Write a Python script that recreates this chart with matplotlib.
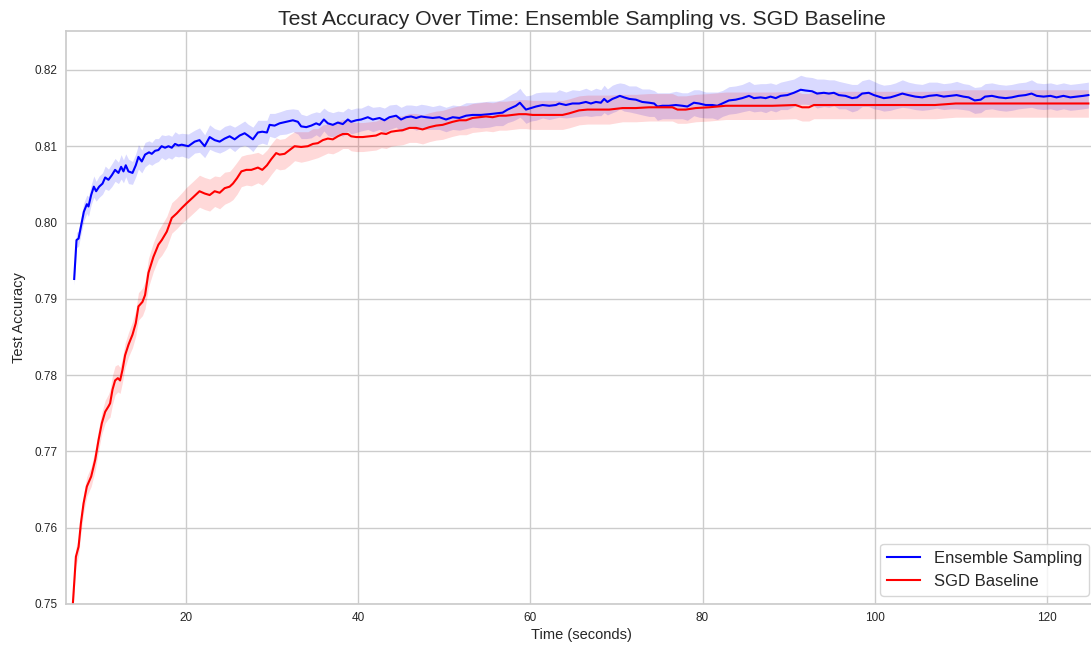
import numpy as np
import matplotlib
matplotlib.use("Agg")
import matplotlib.pyplot as plt

# seaborn-like whitegrid look, done by hand
plt.rcParams.update({
    "font.family": ["Liberation Sans", "DejaVu Sans"],
    "axes.facecolor": "white",
    "axes.edgecolor": "#cccccc",
    "axes.linewidth": 1.25,
    "axes.grid": True,
    "axes.axisbelow": True,
    "grid.color": "#cccccc",
    "grid.linewidth": 1.0,
    "text.color": "#262626",
    "axes.labelcolor": "#262626",
    "xtick.color": "#262626",
    "ytick.color": "#262626",
    "xtick.major.size": 0,
    "ytick.major.size": 0,
    "xtick.major.pad": 6,
    "ytick.major.pad": 6,
})

# Ensemble sampling: time (s), mean accuracy, band half-width
ens_time = [7.05, 7.32, 7.56, 7.87, 8.17, 8.52, 8.71, 9.02, 9.33, 9.60, 9.95, 10.34, 10.65, 11.03,
            11.42, 11.80, 12.19, 12.50, 12.77, 13.04, 13.35, 13.82, 14.20, 14.51, 14.90, 15.28,
            15.74, 16.06, 16.44, 16.83, 17.20, 17.60, 18.00, 18.38, 18.76, 19.15, 19.54, 20.30,
            21.04, 21.60, 22.20, 22.78, 23.36, 23.94, 24.52, 25.10, 25.68, 26.26, 26.84, 27.22,
            27.80, 28.38, 28.89, 29.43, 29.74, 30.32, 30.90, 31.68, 32.44, 33.02, 33.40, 34.00,
            34.57, 35.15, 35.54, 36.04, 36.50, 37.08, 37.66, 38.24, 38.82, 39.20, 39.80, 40.37,
            41.14, 41.72, 42.50, 43.07, 43.65, 44.43, 45.00, 45.59, 46.17, 46.75, 47.33, 47.91,
            48.68, 49.45, 50.22, 51.00, 51.77, 52.55, 53.30, 54.28, 55.25, 56.00, 56.79, 57.37,
            57.95, 58.34, 58.80, 59.10, 59.50, 60.08, 60.66, 61.43, 62.20, 62.98, 63.36, 64.14,
            64.90, 65.68, 66.46, 67.04, 67.62, 68.20, 68.58, 68.96, 69.54, 70.00, 70.40, 70.90,
            71.48, 72.26, 73.00, 73.80, 74.38, 74.76, 75.34, 76.10, 76.90, 77.66, 78.24, 79.00,
            79.60, 80.37, 81.14, 81.72, 82.30, 83.07, 83.85, 84.60, 85.40, 85.97, 86.75, 87.33,
            87.90, 88.50, 89.07, 89.84, 90.60, 91.40, 91.96, 92.73, 93.30, 94.09, 94.67, 95.25,
            95.83, 96.60, 97.37, 97.95, 98.53, 99.30, 99.90, 100.46, 101.04, 101.80, 102.40,
            103.20, 103.90, 104.70, 105.50, 106.30, 107.20, 108.00, 108.80, 109.50, 110.30,
            110.90, 111.60, 112.30, 112.80, 113.60, 114.40, 115.20, 115.90, 116.70, 117.50,
            118.20, 118.80, 119.60, 120.40, 121.10, 121.90, 122.70, 123.50, 124.20, 124.80]
ens_acc = [0.7926, 0.7977, 0.7979, 0.7997, 0.8014, 0.8024, 0.8021, 0.8036, 0.8047, 0.8041, 0.8047,
           0.8051, 0.8059, 0.8056, 0.8062, 0.8069, 0.8065, 0.8073, 0.8067, 0.8075, 0.8067, 0.8065,
           0.8075, 0.8086, 0.8080, 0.8089, 0.8092, 0.8090, 0.8094, 0.8095, 0.8100, 0.8098, 0.8100,
           0.8098, 0.8103, 0.8101, 0.8102, 0.8100, 0.8106, 0.8108, 0.8100, 0.8112, 0.8108, 0.8106,
           0.8110, 0.8113, 0.8109, 0.8114, 0.8117, 0.8114, 0.8109, 0.8118, 0.8119, 0.8118, 0.8128,
           0.8127, 0.8130, 0.8132, 0.8134, 0.8132, 0.8126, 0.8125, 0.8127, 0.8130, 0.8128, 0.8135,
           0.8130, 0.8128, 0.8131, 0.8129, 0.8135, 0.8132, 0.8134, 0.8135, 0.8138, 0.8135, 0.8137,
           0.8134, 0.8138, 0.8140, 0.8135, 0.8138, 0.8139, 0.8137, 0.8139, 0.8138, 0.8137, 0.8138,
           0.8135, 0.8138, 0.8137, 0.8140, 0.8141, 0.8141, 0.8142, 0.8143, 0.8144, 0.8148, 0.8151,
           0.8153, 0.8157, 0.8153, 0.8148, 0.8150, 0.8152, 0.8154, 0.8153, 0.8154, 0.8156, 0.8154,
           0.8156, 0.8156, 0.8158, 0.8156, 0.8158, 0.8157, 0.8162, 0.8158, 0.8162, 0.8164, 0.8166,
           0.8164, 0.8162, 0.8161, 0.8158, 0.8157, 0.8156, 0.8152, 0.8153, 0.8153, 0.8154, 0.8153,
           0.8152, 0.8157, 0.8156, 0.8154, 0.8154, 0.8153, 0.8156, 0.8160, 0.8161, 0.8163, 0.8166,
           0.8163, 0.8164, 0.8163, 0.8165, 0.8163, 0.8166, 0.8167, 0.8170, 0.8174, 0.8173, 0.8172,
           0.8169, 0.8170, 0.8169, 0.8170, 0.8167, 0.8166, 0.8163, 0.8164, 0.8169, 0.8170, 0.8167,
           0.8165, 0.8163, 0.8164, 0.8166, 0.8169, 0.8167, 0.8165, 0.8164, 0.8166, 0.8167, 0.8165,
           0.8166, 0.8167, 0.8165, 0.8164, 0.8160, 0.8161, 0.8165, 0.8166, 0.8164, 0.8163, 0.8164,
           0.8166, 0.8167, 0.8169, 0.8166, 0.8165, 0.8166, 0.8164, 0.8166, 0.8164, 0.8165, 0.8166,
           0.8167]
ens_std = [0.0008, 0.0010, 0.0010, 0.0011, 0.0012, 0.0012, 0.0013, 0.0013, 0.0014, 0.0013, 0.0014,
           0.0014, 0.0015, 0.0014, 0.0015, 0.0015, 0.0014, 0.0016, 0.0015, 0.0015, 0.0016, 0.0015,
           0.0015, 0.0016, 0.0015, 0.0016, 0.0015, 0.0015, 0.0016, 0.0015, 0.0015, 0.0016, 0.0015,
           0.0015, 0.0016, 0.0015, 0.0015, 0.0016, 0.0015, 0.0016, 0.0015, 0.0016, 0.0015, 0.0015,
           0.0016, 0.0015, 0.0016, 0.0015, 0.0016, 0.0015, 0.0016, 0.0016, 0.0015, 0.0016, 0.0015,
           0.0016, 0.0015, 0.0016, 0.0015, 0.0016, 0.0016, 0.0015, 0.0016, 0.0015, 0.0016, 0.0015,
           0.0016, 0.0016, 0.0015, 0.0016, 0.0015, 0.0016, 0.0016, 0.0015, 0.0016, 0.0016, 0.0015,
           0.0016, 0.0016, 0.0015, 0.0016, 0.0016, 0.0015, 0.0016, 0.0016, 0.0016, 0.0015, 0.0016,
           0.0016, 0.0016, 0.0016, 0.0017, 0.0016, 0.0017, 0.0017, 0.0016, 0.0017, 0.0017, 0.0018,
           0.0018, 0.0019, 0.0018, 0.0018, 0.0017, 0.0018, 0.0017, 0.0018, 0.0017, 0.0018, 0.0017,
           0.0018, 0.0017, 0.0018, 0.0017, 0.0018, 0.0017, 0.0018, 0.0017, 0.0018, 0.0018, 0.0017,
           0.0018, 0.0017, 0.0018, 0.0017, 0.0018, 0.0017, 0.0018, 0.0017, 0.0017, 0.0018, 0.0017,
           0.0018, 0.0017, 0.0018, 0.0017, 0.0017, 0.0018, 0.0017, 0.0018, 0.0018, 0.0018, 0.0019,
           0.0018, 0.0018, 0.0019, 0.0018, 0.0018, 0.0018, 0.0019, 0.0018, 0.0019, 0.0018, 0.0018,
           0.0019, 0.0018, 0.0018, 0.0017, 0.0018, 0.0017, 0.0018, 0.0017, 0.0017, 0.0018, 0.0018,
           0.0017, 0.0017, 0.0017, 0.0017, 0.0018, 0.0017, 0.0017, 0.0017, 0.0018, 0.0017, 0.0017,
           0.0017, 0.0018, 0.0017, 0.0017, 0.0017, 0.0017, 0.0017, 0.0017, 0.0017, 0.0017, 0.0017,
           0.0017, 0.0017, 0.0018, 0.0017, 0.0017, 0.0017, 0.0017, 0.0017, 0.0017, 0.0017, 0.0017,
           0.0017]

# SGD baseline
sgd_time = [6.60, 6.90, 7.25, 7.56, 7.83, 8.14, 8.52, 9.02, 9.49, 9.88, 10.26, 10.65, 11.03, 11.22,
            11.50, 11.80, 12.12, 12.38, 12.66, 12.96, 13.36, 13.82, 14.20, 14.51, 14.98, 15.28,
            15.67, 16.25, 16.83, 17.22, 17.80, 18.38, 18.96, 19.54, 20.08, 20.85, 21.60, 22.20,
            22.78, 23.36, 23.94, 24.52, 25.10, 25.48, 25.95, 26.46, 27.04, 27.62, 28.38, 28.89,
            29.43, 29.93, 30.50, 30.90, 31.48, 32.06, 32.64, 33.40, 34.18, 34.76, 35.34, 35.92,
            36.50, 37.08, 37.66, 38.24, 38.82, 39.20, 39.80, 40.56, 41.33, 42.10, 42.70, 43.27,
            43.85, 44.43, 45.20, 45.97, 46.75, 47.50, 48.30, 49.07, 49.83, 50.40, 51.00, 51.77,
            52.55, 53.30, 54.10, 54.86, 55.63, 56.40, 57.18, 57.95, 58.70, 59.50, 60.27, 61.43,
            62.98, 63.75, 64.50, 65.68, 66.64, 67.62, 69.16, 70.70, 72.26, 73.80, 75.34, 76.50,
            77.10, 78.05, 79.20, 80.75, 82.69, 85.40, 88.10, 90.80, 91.57, 92.35, 92.93, 95.05,
            98.90, 102.80, 107.00, 109.40, 113.20, 117.10, 121.70, 124.80]
sgd_acc = [0.7480, 0.7501, 0.7562, 0.7575, 0.7606, 0.7632, 0.7654, 0.7667, 0.7689, 0.7715, 0.7737,
           0.7752, 0.7759, 0.7763, 0.7781, 0.7793, 0.7796, 0.7793, 0.7807, 0.7826, 0.7840, 0.7853,
           0.7868, 0.7890, 0.7896, 0.7905, 0.7934, 0.7955, 0.7971, 0.7977, 0.7988, 0.8006, 0.8012,
           0.8019, 0.8025, 0.8033, 0.8041, 0.8038, 0.8036, 0.8041, 0.8039, 0.8045, 0.8047, 0.8051,
           0.8058, 0.8067, 0.8069, 0.8069, 0.8072, 0.8069, 0.8075, 0.8083, 0.8091, 0.8089, 0.8090,
           0.8095, 0.8100, 0.8099, 0.8100, 0.8103, 0.8104, 0.8108, 0.8110, 0.8109, 0.8113, 0.8116,
           0.8116, 0.8113, 0.8112, 0.8112, 0.8113, 0.8114, 0.8117, 0.8116, 0.8119, 0.8120, 0.8121,
           0.8124, 0.8124, 0.8122, 0.8125, 0.8127, 0.8128, 0.8130, 0.8132, 0.8134, 0.8134, 0.8137,
           0.8138, 0.8139, 0.8138, 0.8140, 0.8140, 0.8141, 0.8142, 0.8142, 0.8141, 0.8141, 0.8141,
           0.8141, 0.8143, 0.8147, 0.8148, 0.8148, 0.8148, 0.8150, 0.8150, 0.8151, 0.8151, 0.8151,
           0.8148, 0.8148, 0.8150, 0.8151, 0.8153, 0.8153, 0.8153, 0.8154, 0.8151, 0.8151, 0.8154,
           0.8154, 0.8154, 0.8154, 0.8154, 0.8156, 0.8156, 0.8156, 0.8156, 0.8156]
sgd_std = [0.0010, 0.0011, 0.0012, 0.0012, 0.0013, 0.0013, 0.0013, 0.0013, 0.0014, 0.0014, 0.0014,
           0.0015, 0.0016, 0.0018, 0.0019, 0.0019, 0.0018, 0.0017, 0.0016, 0.0016, 0.0016, 0.0017,
           0.0017, 0.0018, 0.0018, 0.0018, 0.0019, 0.0019, 0.0019, 0.0020, 0.0020, 0.0020, 0.0020,
           0.0020, 0.0021, 0.0021, 0.0021, 0.0021, 0.0021, 0.0020, 0.0021, 0.0021, 0.0020, 0.0021,
           0.0021, 0.0020, 0.0020, 0.0021, 0.0020, 0.0020, 0.0020, 0.0020, 0.0020, 0.0020, 0.0020,
           0.0020, 0.0019, 0.0020, 0.0019, 0.0020, 0.0019, 0.0020, 0.0019, 0.0019, 0.0020, 0.0019,
           0.0019, 0.0019, 0.0019, 0.0019, 0.0019, 0.0019, 0.0019, 0.0019, 0.0019, 0.0019, 0.0019,
           0.0019, 0.0019, 0.0019, 0.0019, 0.0019, 0.0019, 0.0019, 0.0019, 0.0019, 0.0019, 0.0019,
           0.0019, 0.0019, 0.0019, 0.0019, 0.0019, 0.0019, 0.0019, 0.0019, 0.0019, 0.0019, 0.0019,
           0.0019, 0.0019, 0.0019, 0.0019, 0.0019, 0.0019, 0.0018, 0.0018, 0.0018, 0.0018, 0.0018,
           0.0018, 0.0018, 0.0018, 0.0018, 0.0018, 0.0018, 0.0018, 0.0018, 0.0018, 0.0018, 0.0018,
           0.0018, 0.0018, 0.0018, 0.0018, 0.0018, 0.0018, 0.0018, 0.0018, 0.0018]

ens_time, ens_acc, ens_std = map(np.array, (ens_time, ens_acc, ens_std))
sgd_time, sgd_acc, sgd_std = map(np.array, (sgd_time, sgd_acc, sgd_std))

fig = plt.figure(figsize=(10.91, 6.48), dpi=100)
# right spine sits just past the picture edge, like in the cropped original
ax = fig.add_axes([66 / 1091, 44 / 648, 1031 / 1091, 573 / 648])

ax.plot(ens_time, ens_acc, color="blue", lw=1.5, label="Ensemble Sampling")
ax.fill_between(ens_time, ens_acc - ens_std, ens_acc + ens_std, color="blue", alpha=0.15, lw=0)
ax.plot(sgd_time, sgd_acc, color="red", lw=1.5, label="SGD Baseline")
ax.fill_between(sgd_time, sgd_acc - sgd_std, sgd_acc + sgd_std, color="red", alpha=0.15, lw=0)

ax.set_xlim(6.1, 125.8)
ax.set_ylim(0.75, 0.8251)
ax.set_xticks([20, 40, 60, 80, 100, 120])
ax.set_yticks([0.75, 0.76, 0.77, 0.78, 0.79, 0.80, 0.81, 0.82])
ax.set_yticklabels(["0.75", "0.76", "0.77", "0.78", "0.79", "0.80", "0.81", "0.82"])
ax.tick_params(labelsize=8.5)

ax.set_xlabel("Time (seconds)", fontsize=10.5, labelpad=3)
ax.set_ylabel("Test Accuracy", fontsize=10.5, labelpad=6)
ax.set_title("Test Accuracy Over Time: Ensemble Sampling vs. SGD Baseline", fontsize=15.3, pad=4)
ax.legend(loc="lower right", fontsize=12)

fig.savefig("out.png", dpi=100)
